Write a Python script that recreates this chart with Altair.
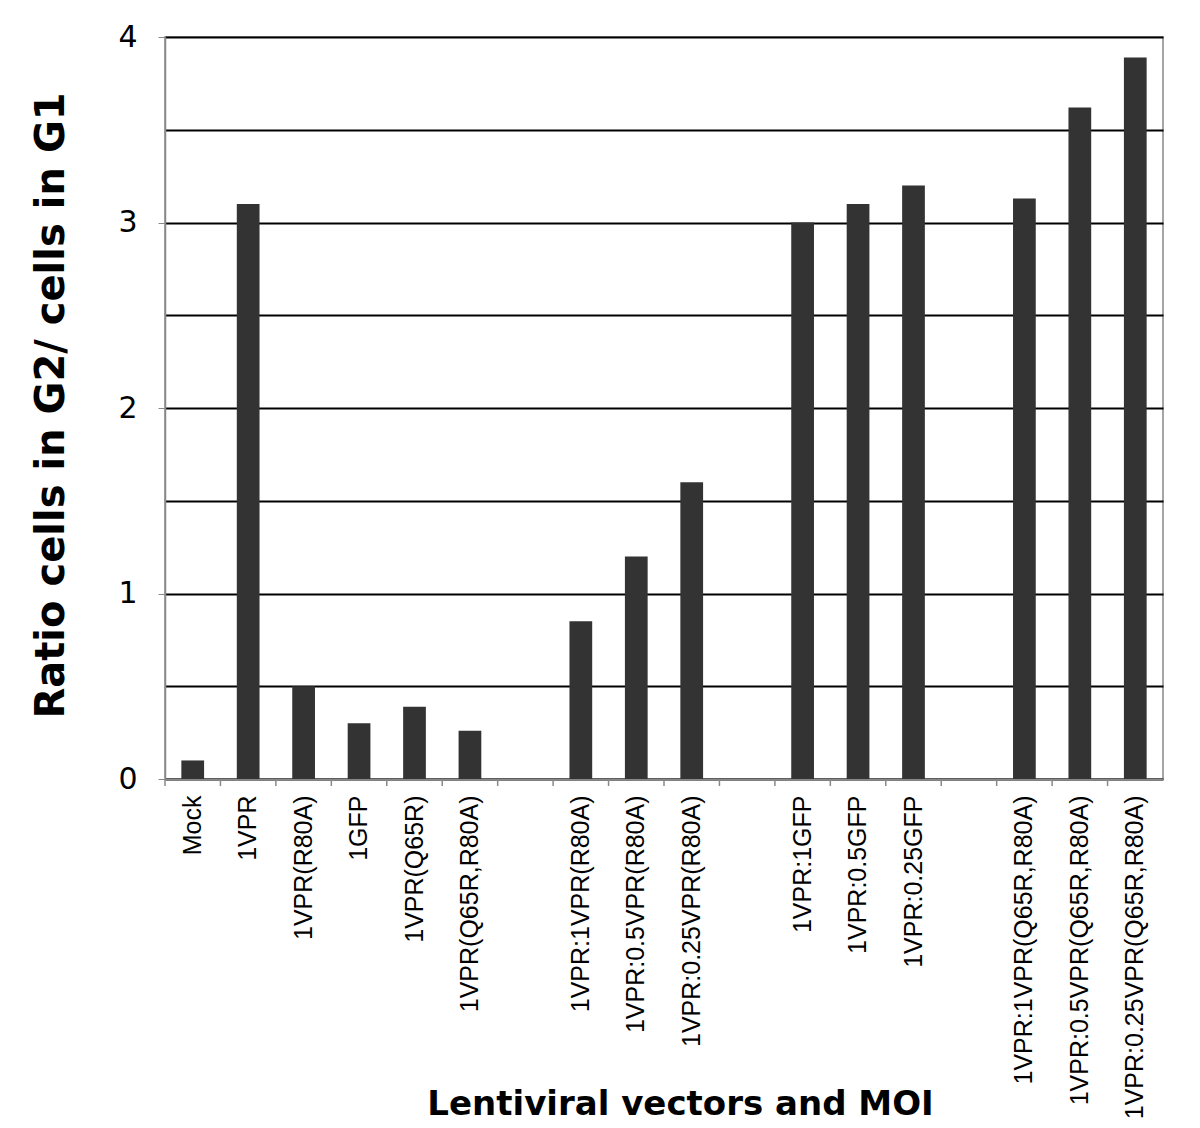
import altair as alt
import pandas as pd

slots = ["Mock", "1VPR", "1VPR(R80A)", "1GFP", "1VPR(Q65R)", "1VPR(Q65R,R80A)", "gap1",
         "1VPR:1VPR(R80A)", "1VPR:0.5VPR(R80A)", "1VPR:0.25VPR(R80A)", "gap2",
         "1VPR:1GFP", "1VPR:0.5GFP", "1VPR:0.25GFP", "gap3",
         "1VPR:1VPR(Q65R,R80A)", "1VPR:0.5VPR(Q65R,R80A)", "1VPR:0.25VPR(Q65R,R80A)"]
categories = ["Mock", "1VPR", "1VPR(R80A)", "1GFP", "1VPR(Q65R)", "1VPR(Q65R,R80A)",
              "1VPR:1VPR(R80A)", "1VPR:0.5VPR(R80A)", "1VPR:0.25VPR(R80A)",
              "1VPR:1GFP", "1VPR:0.5GFP", "1VPR:0.25GFP",
              "1VPR:1VPR(Q65R,R80A)", "1VPR:0.5VPR(Q65R,R80A)", "1VPR:0.25VPR(Q65R,R80A)"]
ratios = [0.10, 3.10, 0.50, 0.30, 0.39, 0.26,
          0.85, 1.20, 1.60,
          3.00, 3.10, 3.20,
          3.13, 3.62, 3.89]
y_grid = [0, 0.5, 1, 1.5, 2, 2.5, 3, 3.5, 4]

W, H = 998, 742
step = W / len(slots)

df = pd.DataFrame({"vector": categories, "ratio": ratios})
ticks_df = pd.DataFrame({"vector": slots})

xscale = alt.Scale(domain=slots, paddingInner=0.59, paddingOuter=0.295)

bars = alt.Chart(df).mark_bar(color="#333333").encode(
    x=alt.X("vector:N", sort=slots, scale=xscale,
            axis=alt.Axis(title="Lentiviral vectors and MOI", labelAngle=-90,
                          labelAlign="right", labelBaseline="middle",
                          labelExpr="indexof(datum.label,'gap')==0 ? '' : datum.label",
                          labelFont="Liberation Sans", labelFontSize=25, labelColor="#000000",
                          labelPadding=16, labelLimit=400, ticks=False,
                          domainColor="#888888", domainWidth=1.5,
                          titleFont="DejaVu Sans", titleFontSize=34, titleFontWeight="bold",
                          titleColor="#000000", titleX=515, titleY=325,
                          titleBaseline="middle")),
    y=alt.Y("ratio:Q", scale=alt.Scale(domain=[0, 4]),
            axis=alt.Axis(title="Ratio cells in G2/ cells in G1", values=y_grid,
                          labelExpr="datum.value % 1 == 0 ? format(datum.value, 'd') : ''",
                          labelFont="DejaVu Sans", labelFontSize=30, labelColor="#000000",
                          labelPadding=21, tickSize=7, tickColor="#888888",
                          tickOpacity={"condition": {"test": "datum.value % 1 == 0", "value": 1}, "value": 0},
                          domainColor="#888888", domainWidth=1.5,
                          grid=True, gridColor="#000000", gridWidth=2,
                          titleFont="DejaVu Sans", titleFontSize=40, titleFontWeight="bold",
                          titleColor="#000000", titleX=-114, titleY=368,
                          titleBaseline="middle")),
)

xticks = alt.Chart(ticks_df).mark_rule(color="#888888", strokeWidth=1.5, xOffset=-step / 2).encode(
    x=alt.X("vector:N", sort=slots, scale=xscale),
    y=alt.value(H),
    y2=alt.value(H + 7),
)

chart = alt.layer(bars, xticks).properties(
    width=W, height=H,
    autosize=alt.AutoSizeParams(type="none"),
    padding={"left": 157, "top": 29, "right": 20, "bottom": 345},
).configure_view(stroke="#888888", strokeWidth=1.5)

chart.save("out.html", embed_options={"renderer": "svg", "actions": False})
